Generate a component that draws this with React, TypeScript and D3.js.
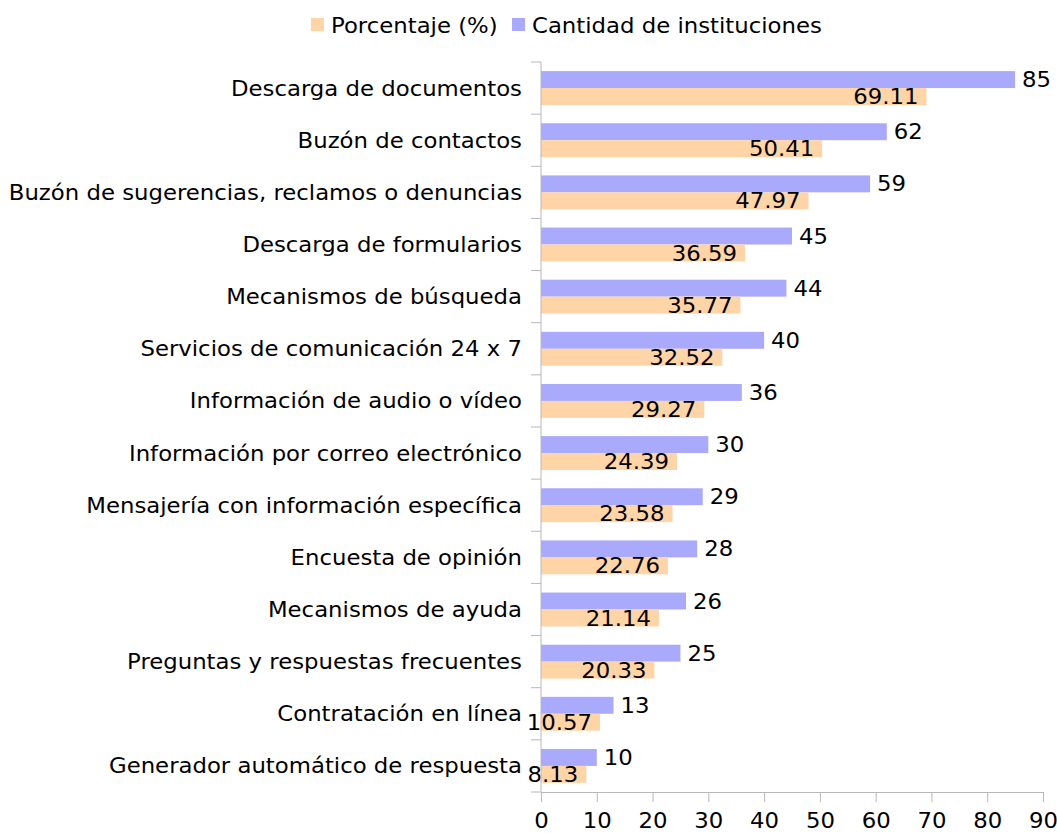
import React, { useEffect, useState } from 'react';
import * as d3 from 'd3';

const categories = [
  'Descarga de documentos',
  'Buzón de contactos',
  'Buzón de sugerencias, reclamos o denuncias',
  'Descarga de formularios',
  'Mecanismos de búsqueda',
  'Servicios de comunicación 24 x 7',
  'Información de audio o vídeo',
  'Información por correo electrónico',
  'Mensajería con información específica',
  'Encuesta de opinión',
  'Mecanismos de ayuda',
  'Preguntas y respuestas frecuentes',
  'Contratación en línea',
  'Generador automático de respuesta',
];

const porcentaje = [69.11, 50.41, 47.97, 36.59, 35.77, 32.52, 29.27, 24.39, 23.58, 22.76, 21.14, 20.33, 10.57, 8.13];
const cantidad = [85, 62, 59, 45, 44, 40, 36, 30, 29, 28, 26, 25, 13, 10];

const seriesNames = ['Porcentaje (%)', 'Cantidad de instituciones'];
const xTicks = [0, 10, 20, 30, 40, 50, 60, 70, 80, 90];

const width = 1057;
const height = 833;

const App: React.FC = () => {
  const [svgRef, setSvgRef] = useState<SVGSVGElement | null>(null);

  useEffect(() => {
    if (!svgRef) return;

    d3.select(svgRef).selectAll('*').remove();

    const font = '"DejaVu Sans", Verdana, sans-serif';
    const orange = '#ffd5a8';
    const blue = '#aaaafc';
    const axisColor = '#b8b8b8';
    const stretch = 1.085; // the original font runs wider than DejaVu

    const svg = d3.select(svgRef)
      .attr('width', width)
      .attr('height', height)
      .style('font-family', font);

    const x = d3.scaleLinear().domain([0, 90]).range([541, 1043]);
    const y = d3.scaleBand<string>().domain(categories).range([62, 792]);
    const bw = y.bandwidth();
    // blue bar on top, orange below it
    const inner = d3.scaleBand<string>()
      .domain(['cantidad', 'porcentaje'])
      .range([bw * 0.175, bw * 0.825]);

    const rows = categories.map((c, i) => ({ c, p: porcentaje[i], n: cantidad[i] }));

    const place = (px: number, py: number) => `translate(${px},${py}) scale(${stretch},1)`;

    // bars
    const g = svg.append('g');
    g.selectAll('.bar-n')
      .data(rows)
      .enter()
      .append('rect')
      .attr('x', x(0))
      .attr('y', d => (y(d.c) || 0) + (inner('cantidad') || 0))
      .attr('width', d => x(d.n) - x(0))
      .attr('height', inner.bandwidth())
      .attr('fill', blue);

    g.selectAll('.bar-p')
      .data(rows)
      .enter()
      .append('rect')
      .attr('x', x(0))
      .attr('y', d => (y(d.c) || 0) + (inner('porcentaje') || 0))
      .attr('width', d => x(d.p) - x(0))
      .attr('height', inner.bandwidth())
      .attr('fill', orange);

    // value labels
    g.selectAll('.lbl-n')
      .data(rows)
      .enter()
      .append('text')
      .attr('transform', d => place(x(d.n) + 7, (y(d.c) || 0) + (inner('cantidad') || 0) + inner.bandwidth() / 2))
      .attr('dy', '0.36em')
      .style('font-size', '21px')
      .attr('fill', '#000')
      .text(d => d.n);

    g.selectAll('.lbl-p')
      .data(rows)
      .enter()
      .append('text')
      .attr('transform', d => place(x(d.p) - 8, (y(d.c) || 0) + (inner('porcentaje') || 0) + inner.bandwidth() / 2))
      .attr('dy', '0.36em')
      .attr('text-anchor', 'end')
      .style('font-size', '21px')
      .attr('fill', '#000')
      .text(d => d.p.toFixed(2));

    // y axis with ticks at band boundaries
    const yAxis = svg.append('g');
    yAxis.append('line')
      .attr('x1', x(0)).attr('x2', x(0))
      .attr('y1', 62).attr('y2', 792)
      .attr('stroke', axisColor);
    yAxis.selectAll('.ytick')
      .data(categories.concat(['__end']))
      .enter()
      .append('line')
      .attr('x1', x(0) - 10).attr('x2', x(0))
      .attr('y1', (d, i) => (i < categories.length ? (y(d) || 0) : 792))
      .attr('y2', (d, i) => (i < categories.length ? (y(d) || 0) : 792))
      .attr('stroke', axisColor);
    yAxis.selectAll('.ylabel')
      .data(categories)
      .enter()
      .append('text')
      .attr('transform', d => place(522, (y(d) || 0) + bw / 2))
      .attr('dy', '0.36em')
      .attr('text-anchor', 'end')
      .style('font-size', '21px')
      .attr('fill', '#000')
      .text(d => d);

    // x axis
    const xAxis = svg.append('g').attr('transform', 'translate(0,792)')
      .call(d3.axisBottom(x).tickValues(xTicks).tickSize(10).tickPadding(11).tickSizeOuter(0));
    xAxis.select('.domain').attr('stroke', axisColor);
    xAxis.selectAll('.tick line').attr('stroke', axisColor);
    xAxis.selectAll('.tick text')
      .attr('fill', '#000')
      .attr('transform', `scale(${stretch},1)`)
      .style('font-size', '21px')
      .style('font-family', font);

    // legend
    const legend = svg.append('g');
    const legendItems = [
      { name: seriesNames[0], color: orange, sx: 311 },
      { name: seriesNames[1], color: blue, sx: 512 },
    ];
    legendItems.forEach(item => {
      legend.append('rect')
        .attr('x', item.sx).attr('y', 18)
        .attr('width', 13).attr('height', 13)
        .attr('fill', item.color);
      legend.append('text')
        .attr('transform', place(item.sx + 20, 25))
        .attr('dy', '0.36em')
        .style('font-size', '21px')
        .attr('fill', '#000')
        .text(item.name);
    });
  }, [svgRef]);

  return (
    <svg ref={setSvgRef} style={{ position: 'absolute', left: 0, top: 0, background: '#fff' }} />
  );
};

export default App;
